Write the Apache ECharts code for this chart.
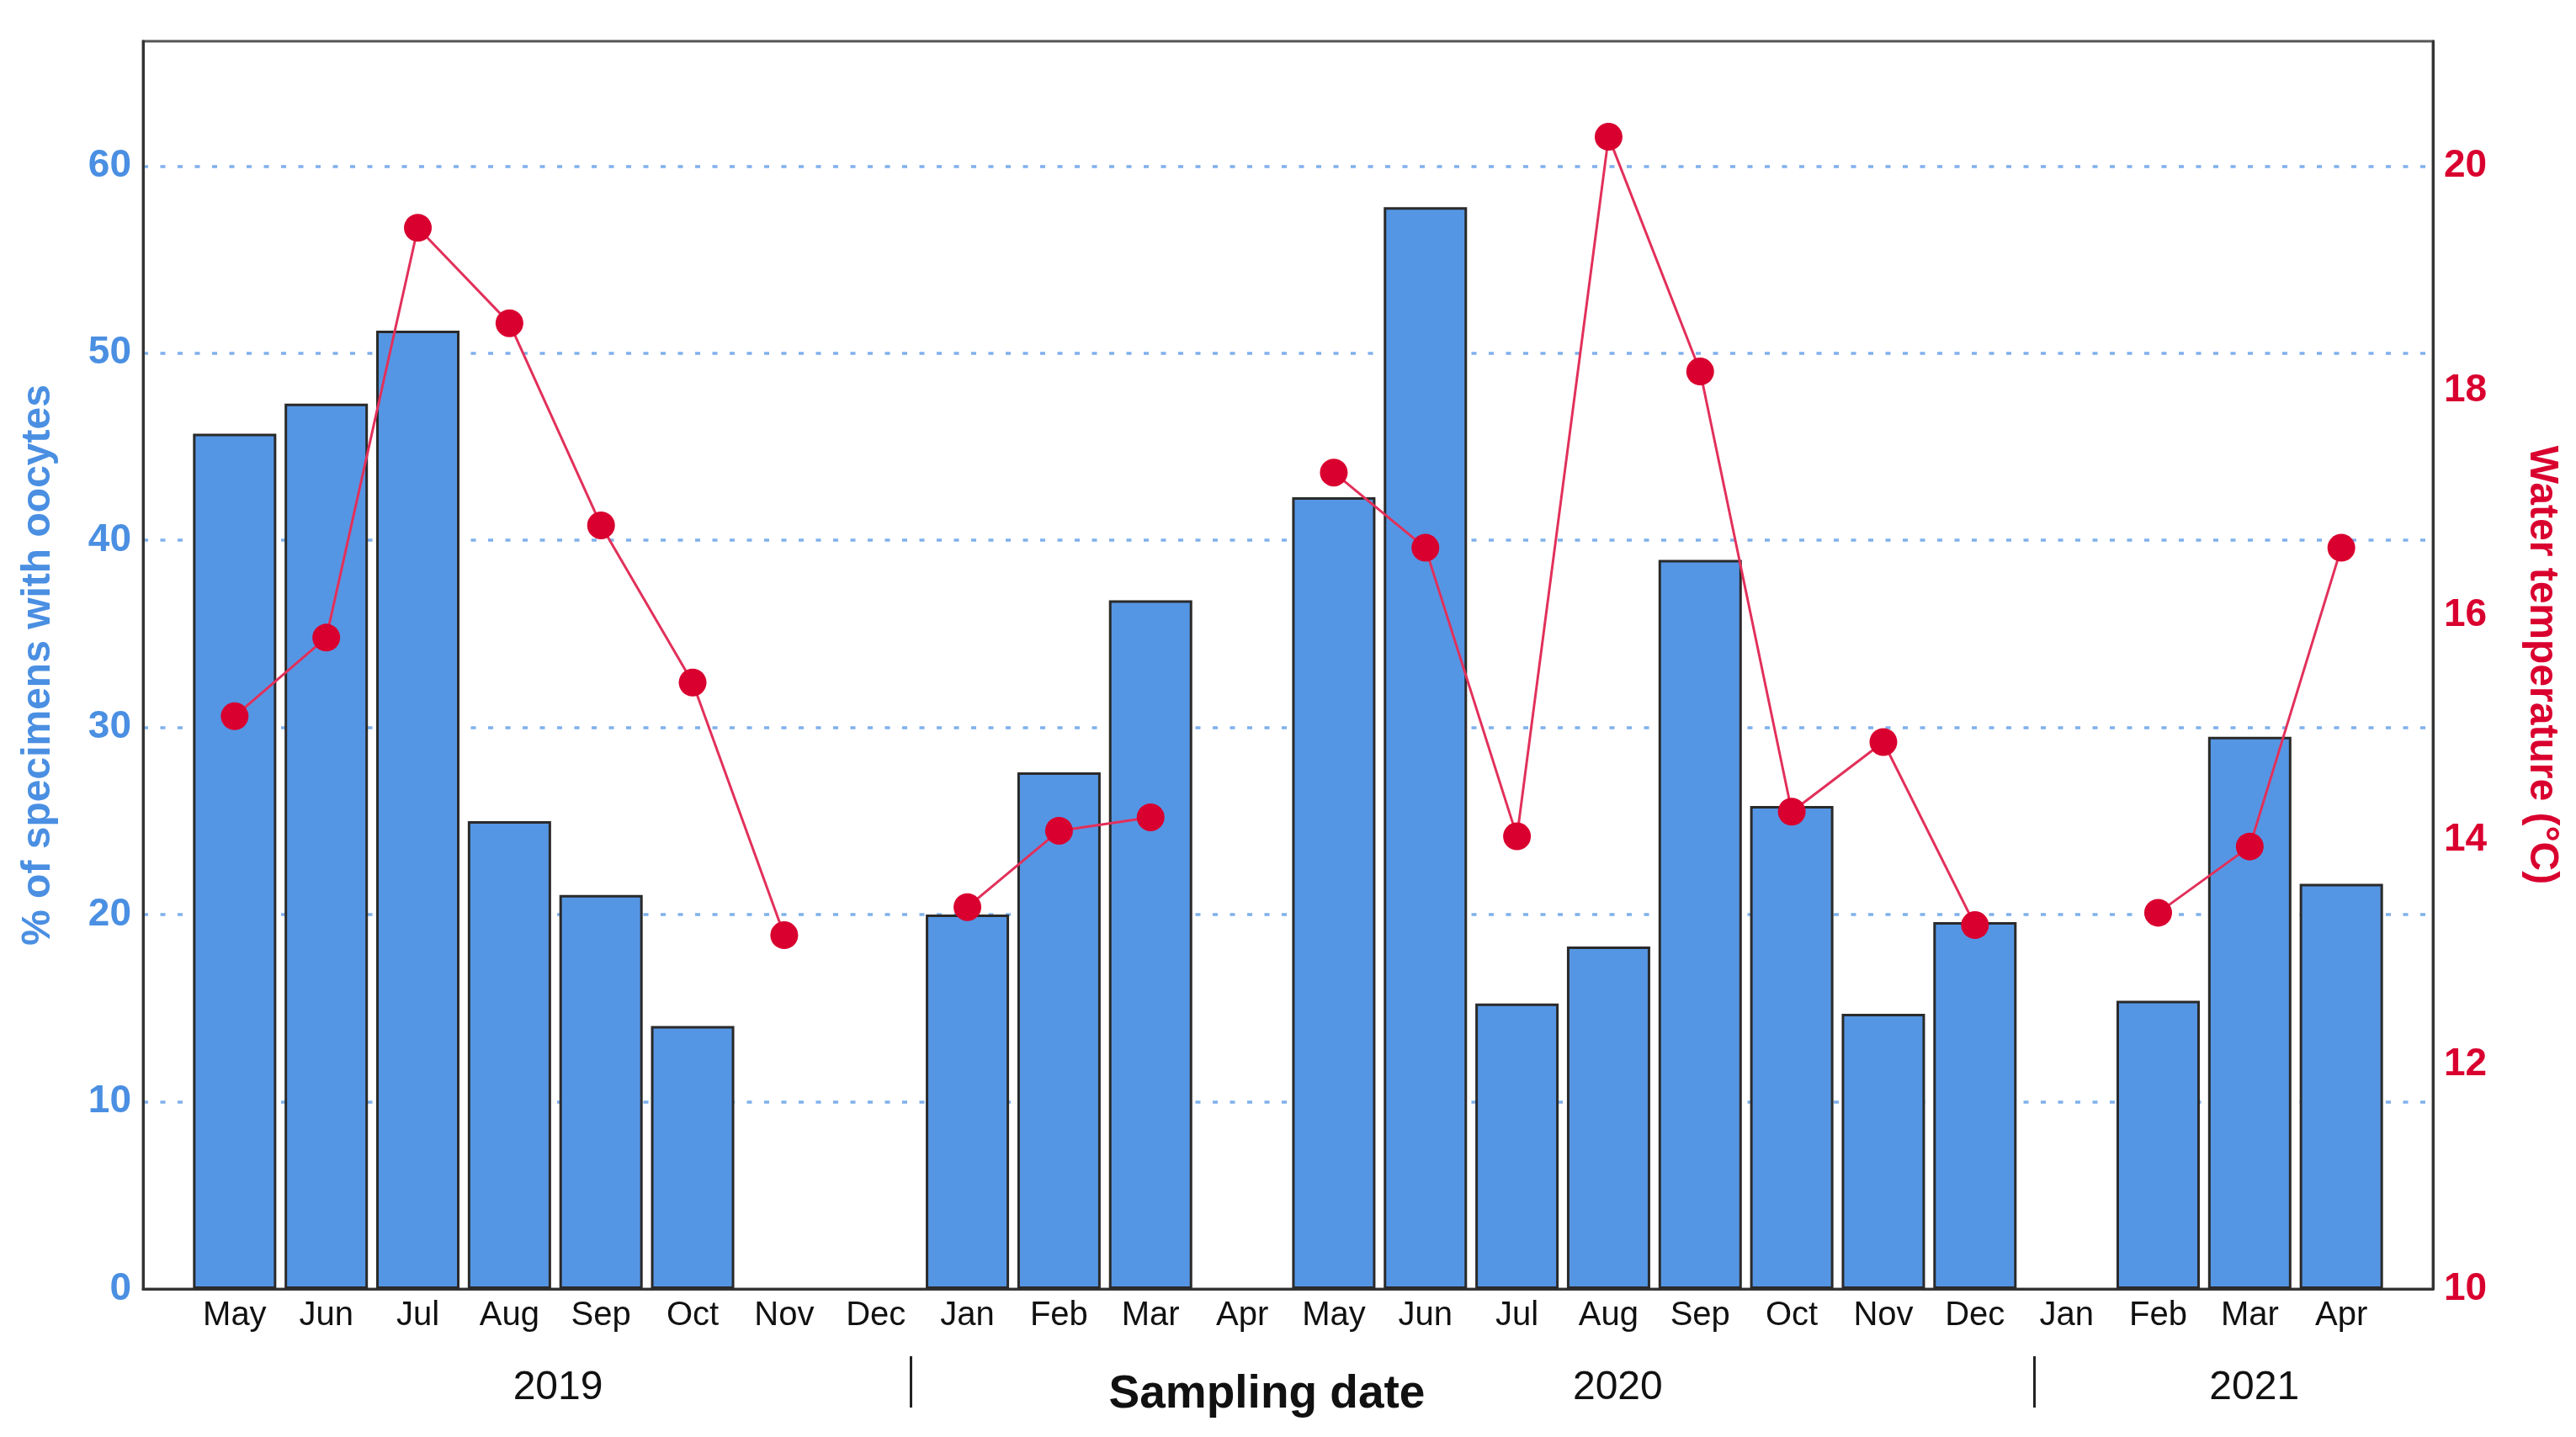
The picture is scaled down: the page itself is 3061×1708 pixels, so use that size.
<!DOCTYPE html>
<html>
<head>
<meta charset="utf-8">
<script src="https://cdn.jsdelivr.net/npm/echarts@6/dist/echarts.min.js"></script>
<style>
html,body{margin:0;padding:0;background:#fff;}
#chart{width:3061px;height:1708px;}
</style>
</head>
<body>
<div id="chart"></div>
<script>
// ---- data ----
const months = ['May','Jun','Jul','Aug','Sep','Oct','Nov','Dec',
  'Jan','Feb','Mar','Apr','May','Jun','Jul','Aug','Sep','Oct','Nov','Dec',
  'Jan','Feb','Mar','Apr'];
const oocytePct = [45.7, 47.3, 51.2, 25.0, 21.05, 14.05, null, null,
  20.0, 27.6, 36.8, null, 42.3, 57.8, 15.25, 18.3, 38.95, 25.8, 14.7, 19.6,
  null, 15.4, 29.5, 21.65];
const waterTemp = [15.1, 15.8, 19.45, 18.6, 16.8, 15.4, 13.15, null,
  13.4, 14.08, 14.2, null, 17.27, 16.6, 14.03, 20.26, 18.17, 14.25, 14.87, 13.24,
  null, 13.35, 13.94, 16.6];
const yearLabels = ['2019', '2020', '2021'];
const yearLabelPos = [3.53, 15.1, 22.05];
const yearSeparators = [7.38, 19.65];
const leftTicks = [0, 10, 20, 30, 40, 50, 60];
const rightTicks = [10, 12, 14, 16, 18, 20];

// ---- build ----
const FONT = "'Liberation Sans', Arial, sans-serif";
const BLUE = '#4A8FE2';
const RED = '#D9002F';

const barData = [];
oocytePct.forEach((v, i) => { if (v !== null) barData.push([i, v]); });
const lineData = waterTemp.map((v, i) => [i, v === null ? '-' : v]);

const chart = echarts.init(document.getElementById('chart'), null, {renderer: 'canvas'});
chart.setOption({
  animation: false,
  backgroundColor: '#ffffff',
  grid: {
    left: 170, right: 170, top: 49, bottom: 176,
    show: true, borderColor: '#555', borderWidth: 3, backgroundColor: 'transparent'
  },
  xAxis: [
    {
      type: 'value', min: -1, max: 24, interval: 1,
      gridIndex: 0, position: 'bottom',
      axisLine: {show: true, onZero: false, lineStyle: {color: '#333', width: 3}},
      axisTick: {show: false},
      splitLine: {show: false},
      axisLabel: {
        margin: 12, color: '#111', fontFamily: FONT, fontSize: 40,
        formatter: v => (Number.isInteger(v) && v >= 0 && v < months.length) ? months[v] : ''
      },
      name: 'Sampling date', nameLocation: 'middle', nameGap: 98,
      nameTextStyle: {fontFamily: FONT, fontSize: 55, fontWeight: 'bold', color: '#111', padding: [0, 50, 0, 0]}
    },
    {
      type: 'value', min: -1, max: 24,
      gridIndex: 0, position: 'bottom', offset: 80,
      axisLine: {show: false, onZero: false},
      splitLine: {show: false},
      axisTick: {show: true, customValues: yearSeparators, length: 61, inside: false,
        lineStyle: {color: '#222', width: 3}},
      axisLabel: {
        customValues: yearLabelPos, margin: 14, color: '#111', fontFamily: FONT, fontSize: 48,
        formatter: v => {
          const k = yearLabelPos.findIndex(p => Math.abs(p - v) < 1e-6);
          return k >= 0 ? yearLabels[k] : '';
        }
      }
    }
  ],
  yAxis: [
    {
      type: 'value', min: 0, max: 200 / 3, interval: 10, position: 'left',
      axisLine: {show: true, onZero: false, lineStyle: {color: '#333', width: 3}},
      axisTick: {show: false},
      splitLine: {show: true, showMinLine: false, showMaxLine: false,
        lineStyle: {color: '#7FB0EC', width: 3.5, type: [6, 14.5]}},
      axisLabel: {
        margin: 14, color: BLUE, fontFamily: FONT, fontSize: 46, fontWeight: 'bold',
        padding: [16, 0, 0, 0],
        formatter: v => leftTicks.some(t => Math.abs(t - v) < 1e-6) ? String(Math.round(v)) : ''
      },
      name: '% of specimens with oocytes', nameLocation: 'middle', nameGap: 100,
      nameTextStyle: {fontFamily: FONT, fontSize: 48, fontWeight: 'bold', color: BLUE}
    },
    {
      type: 'value', min: 10, max: 10 + 100 / 9, interval: 2, position: 'right',
      axisLine: {show: true, onZero: false, lineStyle: {color: '#333', width: 3}},
      axisTick: {show: false},
      splitLine: {show: false},
      axisLabel: {
        margin: 13, color: RED, fontFamily: FONT, fontSize: 46, fontWeight: 'bold',
        padding: [16, 0, 0, 0],
        formatter: v => rightTicks.some(t => Math.abs(t - v) < 1e-6) ? String(Math.round(v)) : ''
      },
      name: 'Water temperature (°C)', nameLocation: 'middle', nameGap: 105, nameRotate: -90,
      nameTextStyle: {fontFamily: FONT, fontSize: 48, fontWeight: 'bold', color: RED}
    }
  ],
  series: [
    {
      type: 'bar', xAxisIndex: 0, yAxisIndex: 0,
      data: barData, barWidth: 99,
      itemStyle: {color: '#5596E4', borderColor: '#2a2a2a', borderWidth: 3},
      z: 2
    },
    {
      type: 'line', xAxisIndex: 0, yAxisIndex: 1,
      data: lineData, connectNulls: false,
      symbol: 'circle', symbolSize: 33, showSymbol: true,
      lineStyle: {color: '#E2305A', width: 3},
      itemStyle: {color: RED, borderWidth: 0},
      z: 3
    }
  ]
});
</script>
</body>
</html>
